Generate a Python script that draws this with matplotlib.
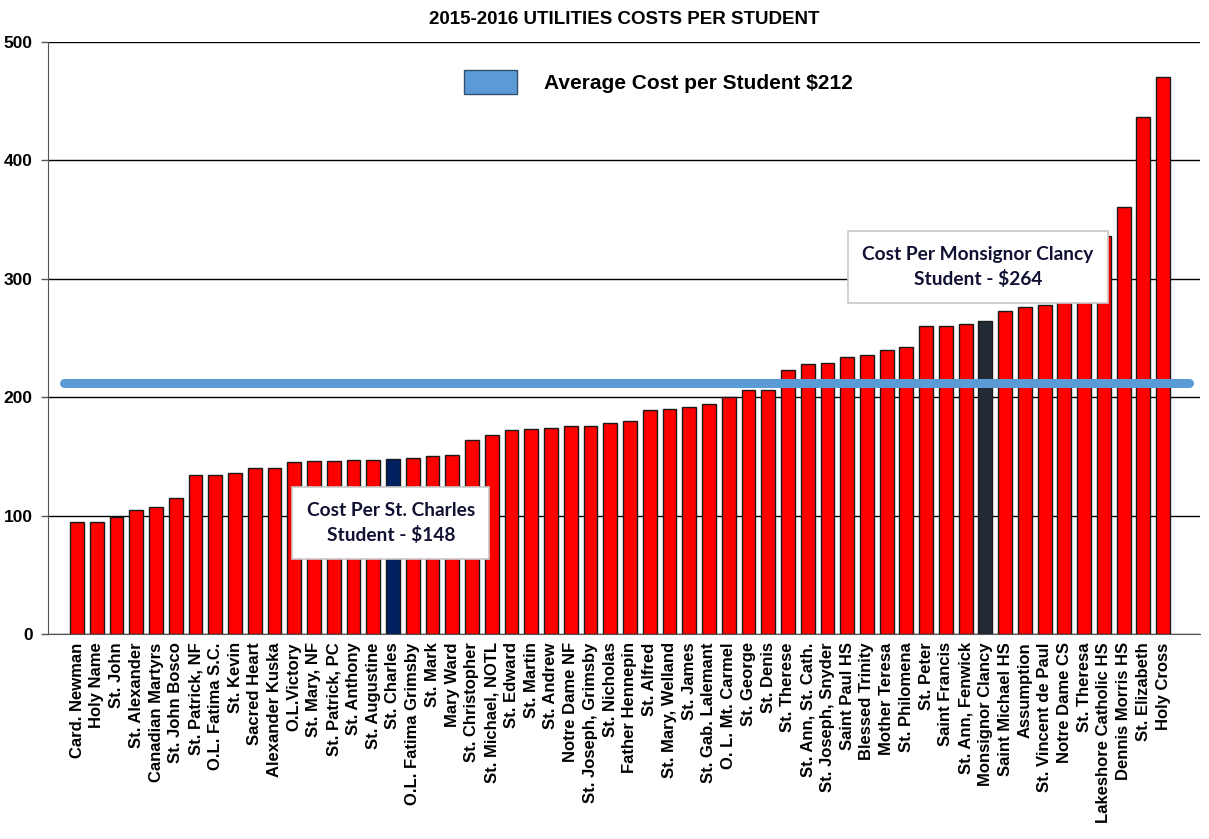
import matplotlib
matplotlib.use("Agg")
import matplotlib.pyplot as plt
from matplotlib.patches import Patch

# school names, sorted by cost
schools = [
    "Card. Newman", "Holy Name", "St. John", "St. Alexander", "Canadian Martyrs",
    "St. John Bosco", "St. Patrick, NF", "O.L. Fatima S.C.", "St. Kevin", "Sacred Heart",
    "Alexander Kuska", "O.L.Victory", "St. Mary, NF", "St. Patrick, PC", "St. Anthony",
    "St. Augustine", "St. Charles", "O.L. Fatima Grimsby", "St. Mark", "Mary Ward",
    "St. Christopher", "St. Michael, NOTL", "St. Edward", "St. Martin", "St. Andrew",
    "Notre Dame NF", "St. Joseph, Grimsby", "St. Nicholas", "Father Hennepin", "St. Alfred",
    "St. Mary, Welland", "St. James", "St. Gab. Lalemant", "O. L. Mt. Carmel", "St. George",
    "St. Denis", "St. Therese", "St. Ann, St. Cath.", "St. Joseph, Snyder", "Saint Paul HS",
    "Blessed Trinity", "Mother Teresa", "St. Philomena", "St. Peter", "Saint Francis",
    "St. Ann, Fenwick", "Monsignor Clancy", "Saint Michael HS", "Assumption",
    "St. Vincent de Paul", "Notre Dame CS", "St. Theresa", "Lakeshore Catholic HS",
    "Dennis Morris HS", "St. Elizabeth", "Holy Cross",
]

# utilities cost per student ($)
costs = [
    95, 95, 99, 105, 107, 115, 134, 134, 136, 140,
    140, 145, 146, 146, 147, 147, 148, 149, 150, 151,
    164, 168, 172, 173, 174, 176, 176, 178, 180, 189,
    190, 192, 194, 200, 206, 206, 223, 228, 229, 234,
    236, 240, 242, 260, 260, 262, 264, 273, 276, 278,
    284, 288, 336, 361, 437, 470,
]

average_cost = 212
highlight = {"St. Charles": "#002060", "Monsignor Clancy": "#222a35"}

fig = plt.figure(figsize=(12.09, 8.39), dpi=100)
ax = fig.add_axes([0.0397, 0.2443, 0.9529, 0.7057])

colors = [highlight.get(s, "#ff0000") for s in schools]
x = range(len(schools))
ax.bar(x, costs, width=0.7, color=colors, edgecolor="#1a1a1a", linewidth=1.0, zorder=3)

# average line
ax.axhline(average_cost, xmin=0.014, xmax=0.99, color="#5b9bd5", linewidth=6.5,
           solid_capstyle="round", zorder=4)

ax.set_xlim(-1.47, len(schools) - 1 + 1.87)
ax.set_ylim(0, 500)
ax.set_yticks([0, 100, 200, 300, 400, 500])
ax.yaxis.grid(True, color="#000000", linewidth=1.0, zorder=0)
ax.set_axisbelow(True)

ax.set_xticks(list(x))
ax.set_xticklabels(schools, rotation=90, fontsize=12, fontweight="bold",
                   family="Liberation Sans")
ax.tick_params(axis="x", length=0, pad=6)
ax.tick_params(axis="y", length=5, width=1, color="#555555", pad=6)
for lbl in ax.get_yticklabels():
    lbl.set_fontweight("bold")
    lbl.set_fontsize(12.5)
    lbl.set_family("Liberation Sans")

for side in ["top", "right"]:
    ax.spines[side].set_visible(False)
ax.spines["left"].set_color("#555555")
ax.spines["bottom"].set_color("#555555")

ax.set_title("2015-2016 UTILITIES COSTS PER STUDENT", fontsize=13.5, fontweight="bold",
             family="Liberation Sans", pad=13)

# legend-like key for the average
handle = Patch(facecolor="#5b9bd5", edgecolor="#2f4f6f", linewidth=1)
leg = ax.legend([handle], [f"Average Cost per Student ${average_cost}"],
                loc="upper center", bbox_to_anchor=(0.53, 0.985), frameon=False,
                handlelength=2.55, handleheight=1.45, handletextpad=1.3,
                prop={"family": "Liberation Sans", "weight": "bold", "size": 15})

# annotation boxes
box_style = dict(boxstyle="square,pad=0.75", facecolor="white", edgecolor="#c8c8c8",
                 linewidth=1.2)
ax.text(0.2977, 0.1875, "Cost Per St. Charles\nStudent - $148", transform=ax.transAxes,
        ha="center", va="center", fontsize=13.8, fontweight="bold", color="#111133",
        family="Lato", linespacing=1.5, bbox=box_style, zorder=6)
ax.text(0.807, 0.62, "Cost Per Monsignor Clancy\nStudent - $264", transform=ax.transAxes,
        ha="center", va="center", fontsize=13.8, fontweight="bold", color="#111133",
        family="Lato", linespacing=1.5, bbox=box_style, zorder=6)

fig.savefig("out.png", dpi=100)
